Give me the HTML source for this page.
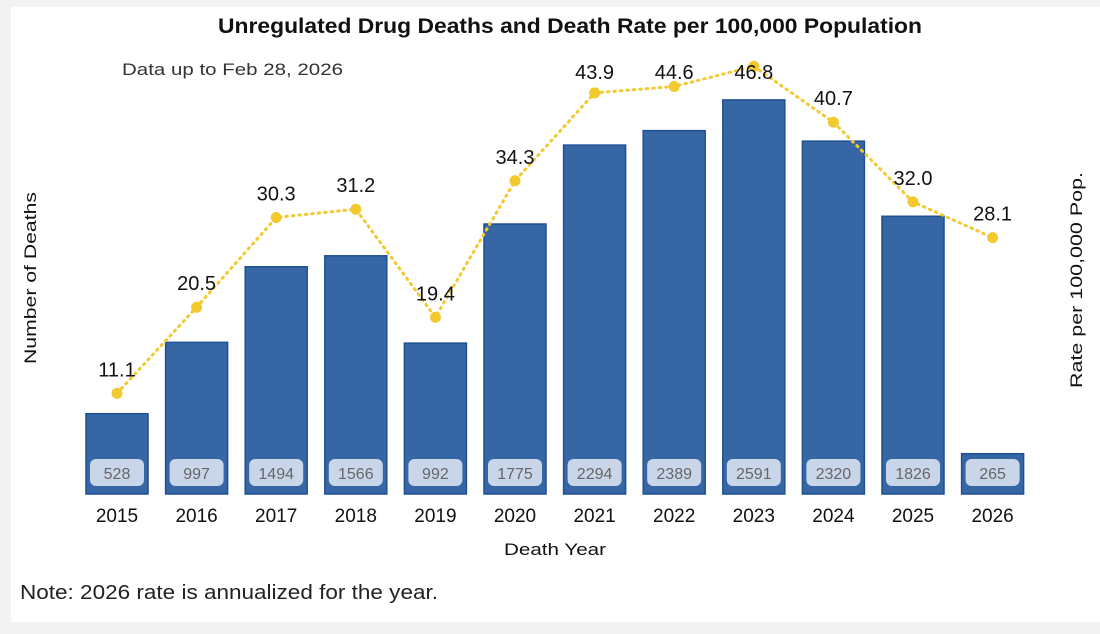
<!DOCTYPE html>
<html><head><meta charset="utf-8"><style>
body{margin:0;background:#f2f2f2;width:1100px;height:634px;overflow:hidden;font-family:"Liberation Sans",sans-serif}
#panel{position:absolute;left:11px;top:7px;width:1089px;height:615px;background:#fff}
svg{position:absolute;left:0;top:0}
</style></head><body>
<div id="panel"></div>
<svg id="chart" width="1100" height="634">
<text x="218" y="33" textLength="704" lengthAdjust="spacingAndGlyphs" font-size="21" font-weight="bold" fill="#111">Unregulated Drug Deaths and Death Rate per 100,000 Population</text>
<text x="122" y="75" textLength="221" lengthAdjust="spacingAndGlyphs" font-size="17" fill="#333">Data up to Feb 28, 2026</text>
<text transform="translate(36,278) rotate(-90)" text-anchor="middle" textLength="172" lengthAdjust="spacingAndGlyphs" font-size="17" fill="#111">Number of Deaths</text>
<text transform="translate(1082,280) rotate(-90)" text-anchor="middle" textLength="216" lengthAdjust="spacingAndGlyphs" font-size="17" fill="#111">Rate per 100,000 Pop.</text>
<text x="555" y="555" text-anchor="middle" textLength="102" lengthAdjust="spacingAndGlyphs" font-size="17" fill="#111">Death Year</text>
<text x="20" y="599" textLength="418" lengthAdjust="spacingAndGlyphs" font-size="20" fill="#222">Note: 2026 rate is annualized for the year.</text>
<g id="bars"></g><g id="line"></g><g id="labels"></g>
</svg>
<script>
const years=["2015","2016","2017","2018","2019","2020","2021","2022","2023","2024","2025","2026"];
const deaths=[528,997,1494,1566,992,1775,2294,2389,2591,2320,1826,265];
const rates=[11.1,20.5,30.3,31.2,19.4,34.3,43.9,44.6,46.8,40.7,32.0,28.1];
const NS="http://www.w3.org/2000/svg";
const x=i=>117+i*79.6;
const yL=v=>494-v*0.1521;
const yR=v=>495-v*9.16;
function mk(t,a,p){const e=document.createElementNS(NS,t);for(const k in a)e.setAttribute(k,a[k]);p.appendChild(e);return e;}
const gb=document.getElementById('bars'),gl=document.getElementById('line'),gt=document.getElementById('labels');
years.forEach((yr,i)=>{
 const b=mk('rect',{x:x(i)-31,y:yL(deaths[i]),width:62,height:494-yL(deaths[i]),fill:'#3667a4',stroke:'#1f4f95','stroke-width':1.5},gb);
 
 
 const bx=mk('rect',{x:x(i)-27,y:459,width:54,height:27,rx:6,fill:'#c9d5e9'},gb);
 
 
 const bt=mk('text',{x:x(i),y:479,'text-anchor':'middle','font-size':16,fill:'#666'},gb);
 bt.textContent=deaths[i];
 
 
 const xt=mk('text',{x:x(i),y:522,'text-anchor':'middle','font-size':19,fill:'#111'},gt);
 xt.textContent=yr;
 
 
});
const pl=mk('polyline',{points:rates.map((r,i)=>x(i)+','+yR(r)).join(' '),fill:'none',stroke:'#f2c92e','stroke-width':3,'stroke-dasharray':'1.5 5','stroke-linecap':'round'},gl);


rates.forEach((r,i)=>{
 const c=mk('circle',{cx:x(i),cy:yR(r),r:5.5,fill:'#f2c92e'},gl);
 
 
 const t=mk('text',{x:x(i),y:Math.max(yR(r)-17,79),'text-anchor':'middle','font-size':20,fill:'#111'},gt);
 t.textContent=r.toFixed(1);
 
 
});
</script>
</body></html>
